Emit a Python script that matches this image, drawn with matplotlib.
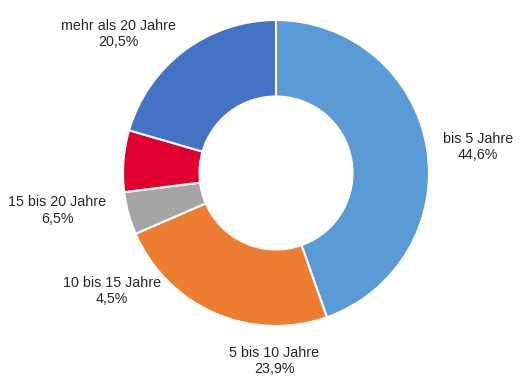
import matplotlib
matplotlib.use("Agg")
import matplotlib.pyplot as plt

# Anteile nach Restlaufzeit (im Uhrzeigersinn ab 12 Uhr)
labels = ["bis 5 Jahre", "5 bis 10 Jahre", "10 bis 15 Jahre", "15 bis 20 Jahre", "mehr als 20 Jahre"]
shares = [44.6, 23.9, 4.5, 6.5, 20.5]
colors = ["#5B9BD5", "#ED7D31", "#A5A5A5", "#E0002F", "#4472C4"]

# label positions relative to the donut (radius 1)
label_pos = [(1.32, 0.17), (-0.01, -1.23), (-1.07, -0.77), (-1.43, -0.245), (-1.03, 0.91)]

plt.rcParams['font.family'] = ['Liberation Sans', 'DejaVu Sans']

fig = plt.figure(figsize=(5.25, 3.88), dpi=100)
ax = fig.add_axes([123 / 525, 62 / 388, 306 / 525, 306 / 388])

ax.pie(shares, colors=colors, startangle=90, counterclock=False, radius=1,
       wedgeprops=dict(width=0.5, edgecolor="white", linewidth=1.5))

for lab, val, (x, y) in zip(labels, shares, label_pos):
    txt = lab + "\n" + f"{val:.1f}".replace(".", ",") + "%"
    ax.text(x, y, txt, ha="center", va="center", fontsize=10.3,
            color="#262626", linespacing=1.2, clip_on=False)

ax.set_xlim(-1, 1)
ax.set_ylim(-1, 1)
ax.set_aspect("equal")
ax.axis("off")

fig.savefig("out.png", dpi=100)
